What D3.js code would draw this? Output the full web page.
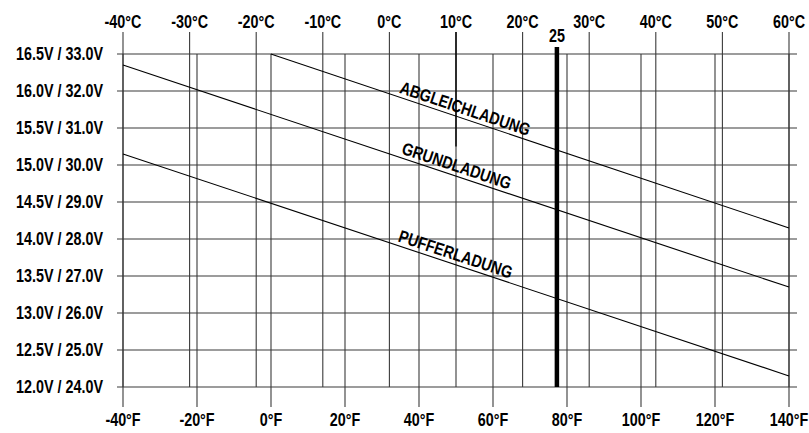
<!DOCTYPE html>
<html>
<head>
	<meta charset="utf-8">
	<title></title>
	<script src="https://cdn.jsdelivr.net/npm/d3@7/dist/d3.min.js"></script>
	<style type="text/css">
		body{
			margin: 0;
			padding: 0;
			background: #fff;
		}
		svg{
			display: block;
		}
		text{
			font-family: "Liberation Sans", Arial, sans-serif;
			font-size: 17.5px;
			font-weight: bold;
			fill: #000;
		}
	</style>
</head>
<body>
	<svg id="svg" width="809" height="433"></svg>
	<script type="text/javascript">
		// tick values
		let celsiusTicks = [-40,-30,-20,-10,0,10,20,30,40,50,60];
		let fahrenheitTicks = [-40,-20,0,20,40,60,80,100,120,140];
		let voltTicks = [12.0,12.5,13.0,13.5,14.0,14.5,15.0,15.5,16.0,16.5];

		// series (°C / volt for 12V system)
		let seriesNames = ['ABGLEICHLADUNG','GRUNDLADUNG','PUFFERLADUNG'];
		let abgleichTemp = [-17.8,60];
		let abgleichVolt = [16.5,14.15];
		let grundTemp = [-40,60];
		let grundVolt = [16.35,13.35];
		let pufferTemp = [-40,60];
		let pufferVolt = [15.15,12.15];
		// where the label starts along each line (°C)
		let labelTemp = [1.2,1.5,1.0];

		let refTemp = 25;

		// the font in the picture is a condensed one
		let squeeze = 0.82;

		let svg = d3.select('#svg');
		let x = d3.scaleLinear().domain([-40,60]).range([123,789]);
		let xF = d3.scaleLinear().domain([-40,140]).range([123,789]);
		let y = d3.scaleLinear().domain([12,16.5]).range([387,54]);

		let grid = svg.append('g');

		// horizontal grid
		grid.selectAll('.h').data(voltTicks).enter().append('line')
			.attr('x1',117).attr('x2',797)
			.attr('y1',d=>y(d)).attr('y2',d=>y(d))
			.style('stroke','#3a3a3a').style('stroke-width',1.1);

		// celsius verticals (top axis)
		grid.selectAll('.c').data(celsiusTicks).enter().append('line')
			.attr('x1',d=>x(d)).attr('x2',d=>x(d))
			.attr('y1',32).attr('y2',y(12))
			.style('stroke','#3a3a3a').style('stroke-width',1.1);

		// fahrenheit verticals (bottom axis)
		grid.selectAll('.f').data(fahrenheitTicks).enter().append('line')
			.attr('x1',d=>xF(d)).attr('x2',d=>xF(d))
			.attr('y1',y(16.5)).attr('y2',407)
			.style('stroke','#3a3a3a').style('stroke-width',1.1);

		// the darker piece of the 10°C line
		grid.append('line')
			.attr('x1',x(10)).attr('x2',x(10))
			.attr('y1',32).attr('y2',y(15.25))
			.style('stroke','#000').style('stroke-width',1.4);

		function label(g,px,py,txt,anchor,extra){
			return g.append('text')
				.attr('transform','translate('+px+','+py+')'+(extra||'')+' scale('+squeeze+',1)')
				.style('text-anchor',anchor)
				.text(txt);
		}

		// top labels
		let topLabels = svg.append('g');
		celsiusTicks.forEach(d=>label(topLabels,x(d),28,d+'°C','middle'));

		// bottom labels
		let bottomLabels = svg.append('g');
		fahrenheitTicks.forEach(d=>label(bottomLabels,xF(d),426,d+'°F','middle'));

		// left labels
		let leftLabels = svg.append('g');
		voltTicks.forEach(d=>{
			label(leftLabels,103,y(d)+6,d.toFixed(1)+'V / '+(d*2).toFixed(1)+'V','end');
		});

		// lines
		let series = [
			{temp:abgleichTemp,volt:abgleichVolt},
			{temp:grundTemp,volt:grundVolt},
			{temp:pufferTemp,volt:pufferVolt}
		];
		let line = d3.line().x(d=>x(d[0])).y(d=>y(d[1]));
		series.forEach(function(s,i){
			let pts = s.temp.map((t,j)=>[t,s.volt[j]]);
			svg.append('path')
				.attr('d',line(pts))
				.style('fill','none')
				.style('stroke','#000')
				.style('stroke-width',1.1);

			// label along the line
			let t0 = labelTemp[i];
			let k = (s.volt[1]-s.volt[0])/(s.temp[1]-s.temp[0]);
			let v0 = s.volt[0]+k*(t0-s.temp[0]);
			let px = x(t0), py = y(v0);
			let ang = Math.atan2(y(v0+k*10)-py, x(t0+10)-px)*180/Math.PI;
			label(svg,px,py,seriesNames[i],'start',' rotate('+ang+') translate(0,-4)');
		});

		// 25°C marker
		svg.append('line')
			.attr('x1',x(refTemp)+1).attr('x2',x(refTemp)+1)
			.attr('y1',47).attr('y2',y(12))
			.style('stroke','#000').style('stroke-width',4.5);
		label(svg,x(refTemp)+1,42,refTemp,'middle');
	</script>
</body>
</html>
